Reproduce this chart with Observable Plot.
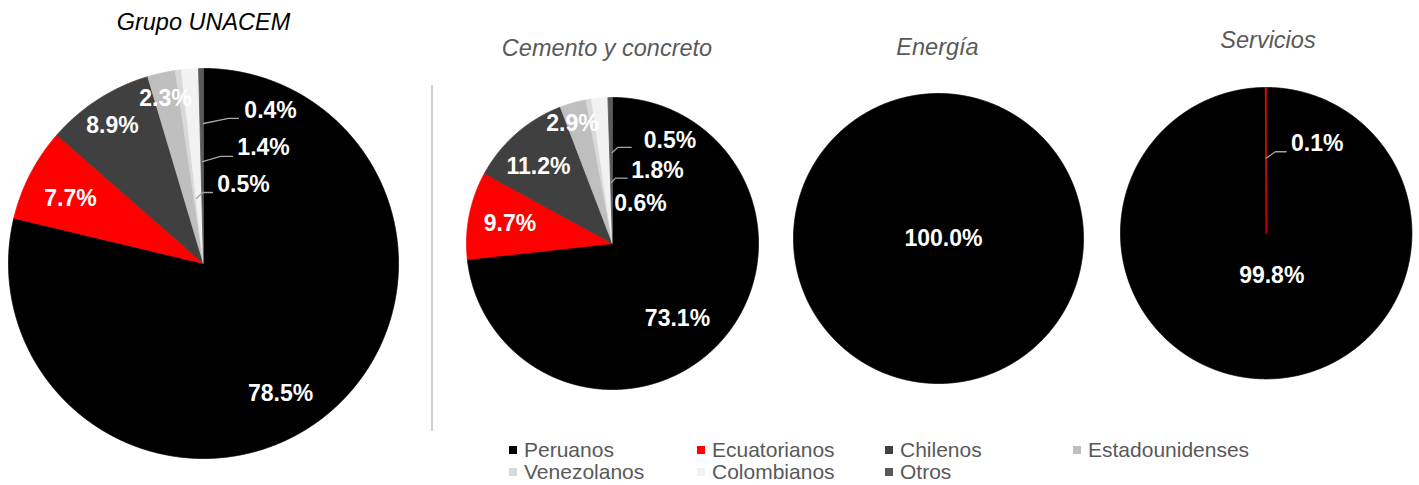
<!DOCTYPE html>
<html>
<head>
<meta charset="utf-8">
<script src="https://cdn.jsdelivr.net/npm/d3@7"></script>
<script src="https://cdn.jsdelivr.net/npm/@observablehq/plot@0.6"></script>
<style>
  body { margin: 0; background: #ffffff; font-family: "Liberation Sans", Arial, sans-serif; }
  #root { position: relative; width: 1419px; height: 485px; overflow: hidden; background: #fff; }
  .pie { position: absolute; }
  .title { position: absolute; transform: translate(-50%, -50%); font-style: italic; font-size: 23.5px; white-space: nowrap; color: #595959; }
  .sep { position: absolute; left: 431px; top: 85px; width: 2px; height: 346px; background: #d0d0d0; }
  .legend { position: absolute; left: 509px; top: 439px; display: grid; grid-template-columns: 188px 188px 188px 188px; grid-auto-rows: 22px; font-size: 21px; color: #595959; }
  .item { display: flex; align-items: center; white-space: nowrap; }
  .sw { width: 8px; height: 8px; margin-right: 7px; flex: none; }
</style>
</head>
<body>
<div id="root"></div>
<script>
// ---------------- DATA ----------------
const categories = ["Peruanos", "Ecuatorianos", "Chilenos", "Estadounidenses", "Venezolanos", "Colombianos", "Otros"];
const titles = ["Grupo UNACEM", "Cemento y concreto", "Energía", "Servicios"];
const grupoUnacem      = [78.5, 7.7, 8.9, 2.3, 0.5, 1.4, 0.4];
const cementoConcreto  = [73.1, 9.7, 11.2, 2.9, 0.6, 1.8, 0.5];
const energia          = [100.0, 0, 0, 0, 0, 0, 0];
const servicios        = [99.8, 0.1, 0, 0, 0, 0, 0];
const seriesValues = [grupoUnacem, cementoConcreto, energia, servicios];

// ---------------- STYLE / LAYOUT ----------------
const colors = ["#000000", "#ff0000", "#404040", "#bfbfbf", "#d9d9d9", "#f2f2f2", "#595959"];
const pieLayout = [
  { cx: 203,    cy: 263,   r: 195,   titleX: 203.5, titleY: 22, titleColor: "#000000" },
  { cx: 612,    cy: 242.7, r: 146,   titleX: 607,   titleY: 48, titleColor: "#595959" },
  { cx: 937.5,  cy: 238.3, r: 145,   titleX: 937.5, titleY: 47, titleColor: "#595959" },
  { cx: 1266,   cy: 232.5, r: 145.7, titleX: 1268,  titleY: 40, titleColor: "#595959" }
];
// label anchor positions in pie-radius units (y up)
const labelLayout = [
  { Peruanos: [0.395, -0.667], Ecuatorianos: [-0.682, 0.333], Chilenos: [-0.467, 0.708],
    Estadounidenses: [-0.195, 0.846], Venezolanos: [0.205, 0.405], Colombianos: [0.308, 0.595], Otros: [0.344, 0.785] },
  { Peruanos: [0.445, -0.516], Ecuatorianos: [-0.702, 0.135], Chilenos: [-0.507, 0.525],
    Estadounidenses: [-0.274, 0.820], Venezolanos: [0.192, 0.272], Colombianos: [0.308, 0.498], Otros: [0.394, 0.703] },
  { Peruanos: [0.034, 0] },
  { Peruanos: [0.038, -0.292], Ecuatorianos: [0.350, 0.614] }
];
// leader lines (radius units)
const leaderLayout = [
  { Otros: [[0, 0.718], [0.128, 0.744], [0.179, 0.744]],
    Colombianos: [[-0.005, 0.523], [0.087, 0.549], [0.149, 0.549]],
    Venezolanos: [[-0.036, 0.333], [-0.005, 0.364], [0.046, 0.364]] },
  { Otros: [[-0.002, 0.623], [0.036, 0.658], [0.128, 0.658]],
    Colombianos: [[-0.009, 0.418], [0.021, 0.448], [0.101, 0.448]] },
  {},
  { Ecuatorianos: [[0, 0.515], [0.062, 0.559], [0.137, 0.559]] }
];

const root = document.getElementById("root");
const margin = 3;

function slices(values) {
  const total = d3.sum(values);
  const pts = [];
  let a0 = 0;
  values.forEach((v, i) => {
    if (!(v > 0)) return;
    const frac = v / total;
    const a1 = a0 + frac * 2 * Math.PI;
    const full = frac > 0.9999;
    const n = Math.max(2, Math.ceil((a1 - a0) / (Math.PI / 720)));
    if (!full) pts.push({ cat: categories[i], x: 0, y: 0 });
    for (let k = 0; k <= n; k++) {
      const a = a0 + (a1 - a0) * k / n;
      pts.push({ cat: categories[i], x: Math.sin(a), y: Math.cos(a) });
    }
    if (!full) pts.push({ cat: categories[i], x: 0, y: 0 });
    a0 = a1;
  });
  return pts;
}

seriesValues.forEach((values, p) => {
  const L = pieLayout[p];
  const labels = [];
  values.forEach((v, i) => {
    const pos = labelLayout[p][categories[i]];
    if (v > 0 && pos) labels.push({ x: pos[0], y: pos[1], text: v.toFixed(1) + "%" });
  });
  const leaders = [];
  Object.entries(leaderLayout[p]).forEach(([cat, arr]) => {
    arr.forEach(([x, y]) => leaders.push({ id: cat, x, y }));
  });
  const size = 2 * L.r + 2 * margin;
  const chart = Plot.plot({
    width: size,
    height: size,
    margin: margin,
    x: { domain: [-1, 1], axis: null },
    y: { domain: [-1, 1], axis: null },
    color: { domain: categories, range: colors },
    style: { background: "transparent", overflow: "visible" },
    marks: [
      Plot.line(slices(values), { x: "x", y: "y", z: "cat", fill: "cat", stroke: "cat", strokeWidth: 0.8, curve: "linear" }),
      Plot.line(leaders, { x: "x", y: "y", z: "id", stroke: "#a6a6a6", strokeWidth: 1.3, curve: "linear" }),
      Plot.text(labels, { x: "x", y: "y", text: "text", fill: "#ffffff", fontSize: 23, fontWeight: "bold", fontFamily: "Liberation Sans, Arial, sans-serif" })
    ]
  });
  chart.classList.add("pie");
  chart.style.left = (L.cx - L.r - margin) + "px";
  chart.style.top = (L.cy - L.r - margin) + "px";
  root.appendChild(chart);

  const t = document.createElement("div");
  t.className = "title";
  t.textContent = titles[p];
  t.style.left = L.titleX + "px";
  t.style.top = L.titleY + "px";
  t.style.color = L.titleColor;
  root.appendChild(t);
});

const sep = document.createElement("div");
sep.className = "sep";
root.appendChild(sep);

const legend = document.createElement("div");
legend.className = "legend";
categories.forEach((c, i) => {
  const item = document.createElement("div");
  item.className = "item";
  const sw = document.createElement("span");
  sw.className = "sw";
  sw.style.background = colors[i];
  const lab = document.createElement("span");
  lab.textContent = c;
  item.appendChild(sw);
  item.appendChild(lab);
  legend.appendChild(item);
});
root.appendChild(legend);
</script>
</body>
</html>
